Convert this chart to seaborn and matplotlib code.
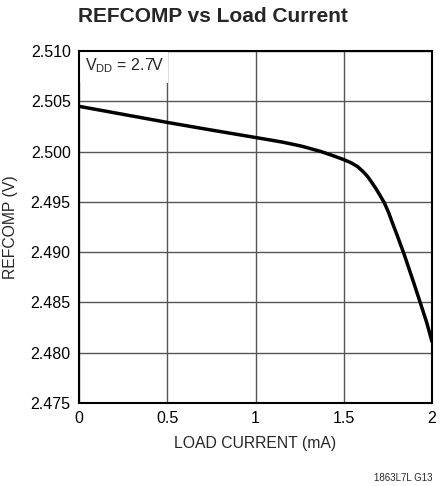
import matplotlib
matplotlib.use("Agg")
import matplotlib.pyplot as plt
import seaborn as sns
import pandas as pd
from matplotlib.patches import Rectangle

# data
load_current = [0.0, 0.25, 0.5, 0.73, 1.0, 1.15, 1.258, 1.3, 1.371, 1.43, 1.5,
                1.54, 1.579, 1.61, 1.636, 1.66, 1.683, 1.707, 1.73, 1.755,
                1.778, 1.80, 1.825, 1.84, 1.89, 1.935, 1.97, 2.0]
refcomp = [2.5045, 2.5037, 2.5029, 2.5022, 2.5014, 2.50095, 2.50055, 2.50035,
           2.5000, 2.49965, 2.4992, 2.4989, 2.4985, 2.4980, 2.4975, 2.4969,
           2.4963, 2.4956, 2.4949, 2.4939, 2.4928, 2.4918, 2.4906, 2.4899,
           2.4873, 2.4849, 2.4830, 2.4811]
x_ticks = [0, 0.5, 1, 1.5, 2]
x_tick_labels = ["0", "0.5", "1", "1.5", "2"]
y_ticks = [2.475, 2.480, 2.485, 2.490, 2.495, 2.500, 2.505, 2.510]
y_tick_labels = ["2.475", "2.480", "2.485", "2.490", "2.495", "2.500", "2.505", "2.510"]

df = pd.DataFrame({"I": load_current, "V": refcomp})

sns.set_style("white")
font = ["Liberation Sans Narrow", "Liberation Sans", "DejaVu Sans"]
plt.rcParams["font.family"] = font
plt.rcParams["mathtext.fontset"] = "custom"
plt.rcParams["mathtext.rm"] = "Liberation Sans"

fig = plt.figure(figsize=(4.43, 4.86), dpi=100)
ax = fig.add_axes([79 / 443, 1 - 403 / 486, 353 / 443, 352 / 486])

sns.lineplot(data=df, x="I", y="V", ax=ax, color="black", linewidth=2.5, zorder=3)

ax.set_xlim(0, 2)
ax.set_ylim(2.475, 2.510)
ax.set_xticks(x_ticks)
ax.set_xticklabels(x_tick_labels)
ax.set_yticks(y_ticks)
ax.set_yticklabels(y_tick_labels)
ax.tick_params(axis="both", length=0, labelsize=11.5, pad=6, colors="black")
ax.grid(True, color="#555555", linewidth=1.0)
ax.set_axisbelow(True)
for s in ax.spines.values():
    s.set_color("black")
    s.set_linewidth(1.5)

ax.set_xlabel("LOAD CURRENT (mA)", fontsize=11.3, labelpad=7)
ax.set_ylabel("REFCOMP (V)", fontsize=11.3, labelpad=9)

# label box covering the grid
ax.add_patch(Rectangle((0, 0.91), 0.253, 0.09, transform=ax.transAxes,
                       facecolor="white", edgecolor="none", zorder=2))
ax.text(0.017, 0.958, r"V$_{\mathrm{DD}}$ = 2.7V", transform=ax.transAxes,
        fontsize=11.5, va="center", ha="left", zorder=4)

fig.text(213 / 443, 1 - 17 / 486, "REFCOMP vs Load Current", fontsize=15,
         fontweight="bold", ha="center", va="center")
fig.text(432 / 443, 1 - 478 / 486, "1863L7L G13", fontsize=7,
         ha="right", va="center")

fig.savefig("out.png", dpi=100)
